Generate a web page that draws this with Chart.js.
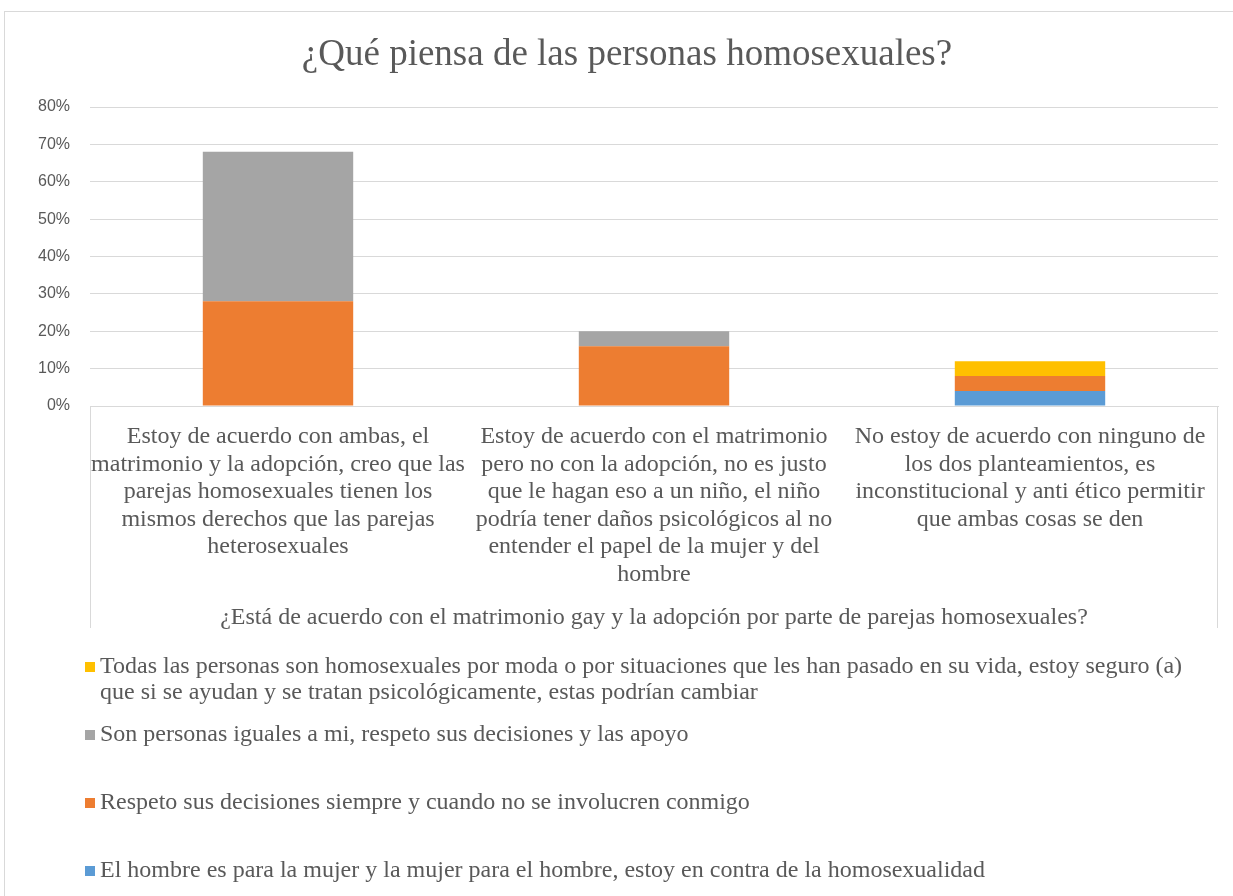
<!DOCTYPE html>
<html>
<head>
<meta charset="utf-8">
<script src="https://cdn.jsdelivr.net/npm/chart.js@4.4.1/dist/chart.umd.min.js"></script>
<style>
  html, body { margin: 0; padding: 0; background: #fff; }
  #wrap { width: 1233px; height: 896px; }
</style>
</head>
<body>
<div id="wrap"><canvas id="chart" width="1233" height="896"></canvas></div>
<script>
const chartTitle = '¿Qué piensa de las personas homosexuales?';
const axisTitle = '¿Está de acuerdo con el matrimonio gay y la adopción por parte de parejas homosexuales?';

const categories = [
    ['Estoy de acuerdo con ambas, el', 'matrimonio y la adopción, creo que las', 'parejas homosexuales tienen los', 'mismos derechos que las parejas', 'heterosexuales'],
    ['Estoy de acuerdo con el matrimonio', 'pero no con la adopción, no es justo', 'que le hagan eso a un niño, el niño', 'podría tener daños psicológicos al no', 'entender el papel de la mujer y del', 'hombre'],
    ['No estoy de acuerdo con ninguno de', 'los dos planteamientos, es', 'inconstitucional y anti ético permitir', 'que ambas cosas se den']
];

const seriesNames = [
    'El hombre es para la mujer y la mujer para el hombre, estoy en contra de la homosexualidad',
    'Respeto sus decisiones siempre y cuando no se involucren conmigo',
    'Son personas iguales a mi, respeto sus decisiones y las apoyo',
    'Todas las personas son homosexuales por moda o por situaciones que les han pasado en su vida, estoy seguro (a) que si se ayudan y se tratan psicológicamente, estas podrían cambiar'
];

// percentages
const contraValues = [0, 0, 4];
const respetoValues = [28, 16, 4];
const igualesValues = [40, 4, 0];
const modaValues = [0, 0, 4];

const seriesColors = ['#5b9bd5', '#ed7d31', '#a5a5a5', '#ffc000'];
const yTicks = [0, 10, 20, 30, 40, 50, 60, 70, 80];

const serif = "'Liberation Serif', 'Times New Roman', serif";
const textColor = '#595959';
const lineColor = '#d9d9d9';

// frame, category box and legend drawn on canvas
const decorPlugin = {
    id: 'decor',
    beforeDraw(chart) {
        const ctx = chart.ctx;
        ctx.save();
        ctx.strokeStyle = lineColor;
        ctx.lineWidth = 1;
        ctx.strokeRect(4.5, 11.5, chart.width + 10, chart.height + 10);
        ctx.restore();
    },
    afterDraw(chart) {
        const ctx = chart.ctx;
        const area = chart.chartArea;
        const xs = chart.scales.x;
        ctx.save();
        ctx.strokeStyle = lineColor;
        ctx.lineWidth = 1;
        ctx.beginPath();
        ctx.moveTo(Math.round(area.left) + 0.5, area.bottom);
        ctx.lineTo(Math.round(area.left) + 0.5, xs.bottom - 4);
        ctx.moveTo(Math.round(area.right) - 0.5, area.bottom);
        ctx.lineTo(Math.round(area.right) - 0.5, xs.bottom - 4);
        ctx.stroke();

        // legend, reversed order, one item per row
        ctx.font = '24px ' + serif;
        ctx.textBaseline = 'middle';
        const boxX = 85, textX = 100, maxW = 1095;
        const rowStep = 68, lineStep = 26;
        let y = xs.bottom + 35;
        const ds = chart.data.datasets.slice().reverse();
        ds.forEach(d => {
            ctx.fillStyle = d.backgroundColor;
            ctx.fillRect(boxX, y - 5, 10, 10);
            ctx.fillStyle = textColor;
            const words = d.label.split(' ');
            let line = '';
            let ly = y;
            words.forEach(w => {
                const test = line ? line + ' ' + w : w;
                if (ctx.measureText(test).width > maxW && line) {
                    ctx.fillText(line, textX, ly);
                    line = w;
                    ly += lineStep;
                } else {
                    line = test;
                }
            });
            ctx.fillText(line, textX, ly);
            y += rowStep;
        });
        ctx.restore();
    }
};

const ctx = document.getElementById('chart').getContext('2d');
new Chart(ctx, {
    type: 'bar',
    data: {
        labels: categories,
        datasets: [
            { label: seriesNames[0], data: contraValues, backgroundColor: seriesColors[0] },
            { label: seriesNames[1], data: respetoValues, backgroundColor: seriesColors[1] },
            { label: seriesNames[2], data: igualesValues, backgroundColor: seriesColors[2] },
            { label: seriesNames[3], data: modaValues, backgroundColor: seriesColors[3] }
        ]
    },
    options: {
        responsive: false,
        animation: false,
        layout: { padding: { left: 36, right: 15, top: 0, bottom: 264 } },
        datasets: { bar: { barPercentage: 0.4, categoryPercentage: 1, borderWidth: 0 } },
        plugins: {
            legend: { display: false },
            tooltip: { enabled: false },
            title: {
                display: true,
                text: chartTitle,
                color: textColor,
                font: { family: serif, size: 37, weight: 'normal', lineHeight: 1.2 },
                padding: { top: 33, bottom: 29.6 }
            }
        },
        scales: {
            x: {
                stacked: true,
                afterFit(scale) { scale.height = 226; },
                grid: { display: false, drawTicks: false },
                border: { color: lineColor },
                ticks: {
                    color: textColor,
                    font: { family: serif, size: 24, lineHeight: 1.146 },
                    padding: 17,
                    maxRotation: 0,
                    autoSkip: false
                },
                title: {
                    display: true,
                    text: axisTitle,
                    color: textColor,
                    font: { family: serif, size: 24, lineHeight: 1.146 },
                    padding: { top: 0, bottom: 1 }
                }
            },
            y: {
                stacked: true,
                min: 0,
                max: 80,
                afterFit(scale) { scale.width = 54; },
                afterBuildTicks(scale) { scale.ticks = yTicks.map(v => ({ value: v })); },
                grid: { color: lineColor, drawTicks: false },
                border: { display: false },
                ticks: {
                    color: textColor,
                    font: { family: "'Liberation Sans', Arial, sans-serif", size: 16 },
                    padding: 20,
                    callback: v => v + '%'
                }
            }
        }
    },
    plugins: [decorPlugin]
});
</script>
</body>
</html>
